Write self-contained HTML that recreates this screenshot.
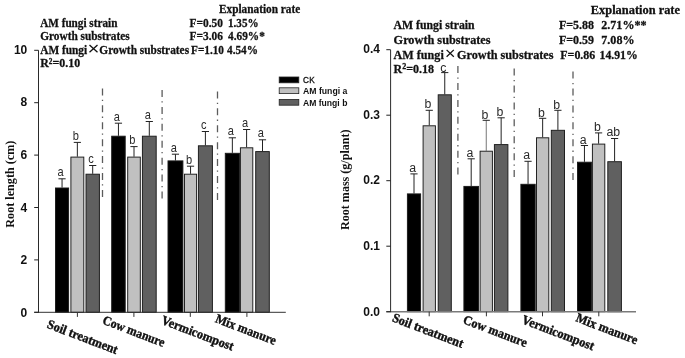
<!DOCTYPE html>
<html><head><meta charset="utf-8"><title>Root length and root mass</title>
<style>
html,body{margin:0;padding:0;background:#fff;}
svg{display:block;will-change:transform;filter:blur(0.3px);}
text{font-family:"Liberation Serif",serif;fill:#111;}
.st{font-weight:bold;font-size:12.4px;stroke:#111;stroke-width:0.28px;}
.st2{font-weight:bold;font-size:12.5px;stroke:#111;stroke-width:0.28px;}
.xl{font-weight:bold;font-size:13px;stroke:#111;stroke-width:0.4px;}
.yl{font-weight:bold;font-size:12.4px;}
.tk{font-family:"Liberation Sans",sans-serif;font-weight:bold;font-size:12px;}
.lt{font-family:"Liberation Sans",sans-serif;font-size:12.3px;fill:#2a2a2a;}
.lg{font-family:"Liberation Sans",sans-serif;font-weight:bold;font-size:8.5px;}
.lg0{font-family:"Liberation Sans",sans-serif;font-size:8.2px;stroke:#111;stroke-width:0.3px;}
</style></head><body>
<svg width="685" height="358" viewBox="0 0 685 358">
<rect width="685" height="358" fill="#fff"/>
<line x1="102.5" y1="88.4" x2="102.5" y2="196.9" stroke="#5c5c5c" stroke-width="1.3" stroke-dasharray="7 4.3 1.3 4.32"/>
<line x1="162.1" y1="90" x2="162.1" y2="198.5" stroke="#5c5c5c" stroke-width="1.3" stroke-dasharray="7 4.3 1.3 4.32"/>
<line x1="217.5" y1="91.4" x2="217.5" y2="199.9" stroke="#5c5c5c" stroke-width="1.3" stroke-dasharray="7 4.3 1.3 4.32"/>
<path d="M62.05 187.6V178.8" stroke="#222" stroke-width="1" fill="none"/>
<path d="M58.45 178.8H65.65" stroke="#222" stroke-width="1" fill="none"/>
<rect x="55.5" y="188" width="13.1" height="124.3" fill="#000000" stroke="#1a1a1a" stroke-width="0.95"/>
<text transform="translate(60.45 176.3) scale(0.9 1)" class="lt" text-anchor="middle">a</text>
<path d="M77.35 156.7V142.4" stroke="#222" stroke-width="1" fill="none"/>
<path d="M73.75 142.4H80.95" stroke="#222" stroke-width="1" fill="none"/>
<rect x="70.9" y="157.1" width="12.9" height="155.2" fill="#c0c0c0" stroke="#1a1a1a" stroke-width="0.95"/>
<text transform="translate(75.75 139.9) scale(0.9 1)" class="lt" text-anchor="middle">b</text>
<path d="M92.7 173.8V165.5" stroke="#222" stroke-width="1" fill="none"/>
<path d="M89.1 165.5H96.3" stroke="#222" stroke-width="1" fill="none"/>
<rect x="86" y="174.2" width="13.4" height="138.1" fill="#606060" stroke="#1a1a1a" stroke-width="0.95"/>
<text transform="translate(91.1 163) scale(0.9 1)" class="lt" text-anchor="middle">c</text>
<path d="M118.45 135.8V123.2" stroke="#222" stroke-width="1" fill="none"/>
<path d="M114.85 123.2H122.05" stroke="#222" stroke-width="1" fill="none"/>
<rect x="111.7" y="136.2" width="13.5" height="176.1" fill="#000000" stroke="#1a1a1a" stroke-width="0.95"/>
<text transform="translate(116.85 120.7) scale(0.9 1)" class="lt" text-anchor="middle">a</text>
<path d="M134 156.7V146.6" stroke="#222" stroke-width="1" fill="none"/>
<path d="M130.4 146.6H137.6" stroke="#222" stroke-width="1" fill="none"/>
<rect x="127.7" y="157.1" width="12.6" height="155.2" fill="#c0c0c0" stroke="#1a1a1a" stroke-width="0.95"/>
<text transform="translate(132.4 144.1) scale(0.9 1)" class="lt" text-anchor="middle">b</text>
<path d="M149.3 135.8V121.5" stroke="#222" stroke-width="1" fill="none"/>
<path d="M145.7 121.5H152.9" stroke="#222" stroke-width="1" fill="none"/>
<rect x="142.4" y="136.2" width="13.8" height="176.1" fill="#606060" stroke="#1a1a1a" stroke-width="0.95"/>
<text transform="translate(147.7 119) scale(0.9 1)" class="lt" text-anchor="middle">a</text>
<path d="M175.45 160.5V154.2" stroke="#222" stroke-width="1" fill="none"/>
<path d="M171.85 154.2H179.05" stroke="#222" stroke-width="1" fill="none"/>
<rect x="168" y="160.9" width="14.9" height="151.4" fill="#000000" stroke="#1a1a1a" stroke-width="0.95"/>
<text transform="translate(173.85 151.7) scale(0.9 1)" class="lt" text-anchor="middle">a</text>
<path d="M190.55 173.8V166.2" stroke="#222" stroke-width="1" fill="none"/>
<path d="M186.95 166.2H194.15" stroke="#222" stroke-width="1" fill="none"/>
<rect x="184.5" y="174.2" width="12.1" height="138.1" fill="#c0c0c0" stroke="#1a1a1a" stroke-width="0.95"/>
<text transform="translate(188.95 163.7) scale(0.9 1)" class="lt" text-anchor="middle">b</text>
<path d="M205.4 145.4V131.5" stroke="#222" stroke-width="1" fill="none"/>
<path d="M201.8 131.5H209" stroke="#222" stroke-width="1" fill="none"/>
<rect x="198.4" y="145.8" width="14" height="166.5" fill="#606060" stroke="#1a1a1a" stroke-width="0.95"/>
<text transform="translate(203.8 129) scale(0.9 1)" class="lt" text-anchor="middle">c</text>
<path d="M232.35 152.9V137.8" stroke="#222" stroke-width="1" fill="none"/>
<path d="M228.75 137.8H235.95" stroke="#222" stroke-width="1" fill="none"/>
<rect x="225.3" y="153.3" width="14.1" height="159" fill="#000000" stroke="#1a1a1a" stroke-width="0.95"/>
<text transform="translate(230.75 135.3) scale(0.9 1)" class="lt" text-anchor="middle">a</text>
<path d="M246.6 147.4V129.5" stroke="#222" stroke-width="1" fill="none"/>
<path d="M243 129.5H250.2" stroke="#222" stroke-width="1" fill="none"/>
<rect x="240.4" y="147.8" width="12.4" height="164.5" fill="#c0c0c0" stroke="#1a1a1a" stroke-width="0.95"/>
<text transform="translate(245 127) scale(0.9 1)" class="lt" text-anchor="middle">a</text>
<path d="M262.5 151.2V139.8" stroke="#222" stroke-width="1" fill="none"/>
<path d="M258.9 139.8H266.1" stroke="#222" stroke-width="1" fill="none"/>
<rect x="255.7" y="151.6" width="13.6" height="160.7" fill="#606060" stroke="#1a1a1a" stroke-width="0.95"/>
<text transform="translate(260.9 137.3) scale(0.9 1)" class="lt" text-anchor="middle">a</text>
<path d="M34.2 312.3H285.8" stroke="#333" stroke-width="1.0" fill="none"/>
<path d="M38.5 50.3V312.7" stroke="#2a2a2a" stroke-width="1" fill="none"/>
<line x1="34.2" y1="312.3" x2="38.5" y2="312.3" stroke="#222" stroke-width="1"/>
<text x="27.3" y="316.8" class="tk" text-anchor="end">0</text>
<line x1="34.2" y1="259.9" x2="38.5" y2="259.9" stroke="#222" stroke-width="1"/>
<text x="27.3" y="264.2" class="tk" text-anchor="end">2</text>
<line x1="34.2" y1="207.5" x2="38.5" y2="207.5" stroke="#222" stroke-width="1"/>
<text x="27.3" y="211.6" class="tk" text-anchor="end">4</text>
<line x1="34.2" y1="155.1" x2="38.5" y2="155.1" stroke="#222" stroke-width="1"/>
<text x="27.3" y="159" class="tk" text-anchor="end">6</text>
<line x1="34.2" y1="102.7" x2="38.5" y2="102.7" stroke="#222" stroke-width="1"/>
<text x="27.3" y="106.4" class="tk" text-anchor="end">8</text>
<line x1="34.2" y1="50.3" x2="38.5" y2="50.3" stroke="#222" stroke-width="1"/>
<text x="27.3" y="53.8" class="tk" text-anchor="end">10</text>
<line x1="77.4" y1="312.3" x2="77.4" y2="316.9" stroke="#333" stroke-width="1"/>
<line x1="133.9" y1="312.3" x2="133.9" y2="316.9" stroke="#333" stroke-width="1"/>
<line x1="190.3" y1="312.3" x2="190.3" y2="316.9" stroke="#333" stroke-width="1"/>
<line x1="246.9" y1="312.3" x2="246.9" y2="316.9" stroke="#333" stroke-width="1"/>
<text transform="translate(46.3 327.5) rotate(21)" class="xl" textLength="74.6" lengthAdjust="spacingAndGlyphs">Soil treatment</text>
<text transform="translate(101.7 323.5) rotate(21)" class="xl" textLength="65.6" lengthAdjust="spacingAndGlyphs">Cow manure</text>
<text transform="translate(160.6 323.5) rotate(21)" class="xl" textLength="76.2" lengthAdjust="spacingAndGlyphs">Vermicompost</text>
<text transform="translate(214.4 322) rotate(21)" class="xl" textLength="64.2" lengthAdjust="spacingAndGlyphs">Mix manure</text>
<text transform="translate(13.8 184.2) rotate(-90)" class="yl" text-anchor="middle" textLength="87" lengthAdjust="spacingAndGlyphs">Root length (cm)</text>
<line x1="457.9" y1="66.1" x2="457.9" y2="174.6" stroke="#5c5c5c" stroke-width="1.3" stroke-dasharray="7 4.3 1.3 4.32"/>
<line x1="514.2" y1="68.6" x2="514.2" y2="177.1" stroke="#5c5c5c" stroke-width="1.3" stroke-dasharray="7 4.3 1.3 4.32"/>
<line x1="573" y1="71.6" x2="573" y2="180.1" stroke="#5c5c5c" stroke-width="1.3" stroke-dasharray="7 4.3 1.3 4.32"/>
<path d="M414 193.5V173.9" stroke="#222" stroke-width="1" fill="none"/>
<path d="M410.4 173.9H417.6" stroke="#222" stroke-width="1" fill="none"/>
<rect x="407.4" y="193.9" width="13.2" height="117.8" fill="#000000" stroke="#1a1a1a" stroke-width="0.95"/>
<text transform="translate(412.7 171.9) scale(1 1)" class="lt" text-anchor="middle">a</text>
<path d="M429.25 125.4V110.3" stroke="#222" stroke-width="1" fill="none"/>
<path d="M425.65 110.3H432.85" stroke="#222" stroke-width="1" fill="none"/>
<rect x="423.1" y="125.8" width="12.3" height="185.9" fill="#c0c0c0" stroke="#1a1a1a" stroke-width="0.95"/>
<text transform="translate(427.95 108.4) scale(1 1)" class="lt" text-anchor="middle">b</text>
<path d="M444.75 94.4V72.6" stroke="#222" stroke-width="1" fill="none"/>
<path d="M441.15 72.6H448.35" stroke="#222" stroke-width="1" fill="none"/>
<rect x="438.2" y="94.8" width="13.1" height="216.9" fill="#606060" stroke="#1a1a1a" stroke-width="0.95"/>
<text transform="translate(443.45 72.1) scale(1 1)" class="lt" text-anchor="middle">c</text>
<path d="M471.2 186V158.8" stroke="#222" stroke-width="1" fill="none"/>
<path d="M467.6 158.8H474.8" stroke="#222" stroke-width="1" fill="none"/>
<rect x="463.9" y="186.4" width="14.6" height="125.3" fill="#000000" stroke="#1a1a1a" stroke-width="0.95"/>
<text transform="translate(469.9 156.9) scale(1 1)" class="lt" text-anchor="middle">a</text>
<path d="M486.25 150.8V120.3" stroke="#777" stroke-width="1" fill="none"/>
<path d="M482.65 120.3H489.85" stroke="#222" stroke-width="1" fill="none"/>
<rect x="480.1" y="151.2" width="12.3" height="160.5" fill="#c0c0c0" stroke="#1a1a1a" stroke-width="0.95"/>
<text transform="translate(484.95 118.5) scale(1 1)" class="lt" text-anchor="middle">b</text>
<path d="M501.15 144.2V117.8" stroke="#222" stroke-width="1" fill="none"/>
<path d="M497.55 117.8H504.75" stroke="#222" stroke-width="1" fill="none"/>
<rect x="494.4" y="144.6" width="13.5" height="167.1" fill="#606060" stroke="#1a1a1a" stroke-width="0.95"/>
<text transform="translate(499.85 116) scale(1 1)" class="lt" text-anchor="middle">b</text>
<path d="M528.05 183.9V161.3" stroke="#222" stroke-width="1" fill="none"/>
<path d="M524.45 161.3H531.65" stroke="#222" stroke-width="1" fill="none"/>
<rect x="520.9" y="184.3" width="14.3" height="127.4" fill="#000000" stroke="#1a1a1a" stroke-width="0.95"/>
<text transform="translate(526.75 159.3) scale(1 1)" class="lt" text-anchor="middle">a</text>
<path d="M542.65 137.4V118.3" stroke="#222" stroke-width="1" fill="none"/>
<path d="M539.05 118.3H546.25" stroke="#222" stroke-width="1" fill="none"/>
<rect x="536.5" y="137.8" width="12.3" height="173.9" fill="#c0c0c0" stroke="#1a1a1a" stroke-width="0.95"/>
<text transform="translate(541.35 116.5) scale(1 1)" class="lt" text-anchor="middle">b</text>
<path d="M557.9 129.9V110.3" stroke="#222" stroke-width="1" fill="none"/>
<path d="M554.3 110.3H561.5" stroke="#222" stroke-width="1" fill="none"/>
<rect x="551.3" y="130.3" width="13.2" height="181.4" fill="#606060" stroke="#1a1a1a" stroke-width="0.95"/>
<text transform="translate(556.6 108.9) scale(1 1)" class="lt" text-anchor="middle">b</text>
<path d="M584.45 161.8V145.5" stroke="#222" stroke-width="1" fill="none"/>
<path d="M580.85 145.5H588.05" stroke="#222" stroke-width="1" fill="none"/>
<rect x="577.5" y="162.2" width="13.9" height="149.5" fill="#000000" stroke="#1a1a1a" stroke-width="0.95"/>
<text transform="translate(583.15 143.5) scale(1 1)" class="lt" text-anchor="middle">a</text>
<path d="M598.6 143.7V132.9" stroke="#222" stroke-width="1" fill="none"/>
<path d="M595 132.9H602.2" stroke="#222" stroke-width="1" fill="none"/>
<rect x="592.4" y="144.1" width="12.4" height="167.6" fill="#c0c0c0" stroke="#1a1a1a" stroke-width="0.95"/>
<text transform="translate(597.3 131.1) scale(1 1)" class="lt" text-anchor="middle">b</text>
<path d="M614.6 161.3V138.5" stroke="#222" stroke-width="1" fill="none"/>
<path d="M611 138.5H618.2" stroke="#222" stroke-width="1" fill="none"/>
<rect x="607.8" y="161.7" width="13.6" height="150" fill="#606060" stroke="#1a1a1a" stroke-width="0.95"/>
<text transform="translate(613.3 136) scale(1 1)" class="lt" text-anchor="middle">ab</text>
<path d="M386.3 311.7H636" stroke="#7a7a7a" stroke-width="1.6" fill="none"/>
<path d="M390.6 49.8V312.1" stroke="#2a2a2a" stroke-width="1" fill="none"/>
<line x1="386.3" y1="311.7" x2="390.6" y2="311.7" stroke="#222" stroke-width="1"/>
<text x="380" y="315.7" class="tk" text-anchor="end">0.0</text>
<line x1="386.3" y1="246.2" x2="390.6" y2="246.2" stroke="#222" stroke-width="1"/>
<text x="380" y="250.05" class="tk" text-anchor="end">0.1</text>
<line x1="386.3" y1="180.7" x2="390.6" y2="180.7" stroke="#222" stroke-width="1"/>
<text x="380" y="184.4" class="tk" text-anchor="end">0.2</text>
<line x1="386.3" y1="115.2" x2="390.6" y2="115.2" stroke="#222" stroke-width="1"/>
<text x="380" y="118.75" class="tk" text-anchor="end">0.3</text>
<line x1="386.3" y1="49.7" x2="390.6" y2="49.7" stroke="#222" stroke-width="1"/>
<text x="380" y="53.1" class="tk" text-anchor="end">0.4</text>
<line x1="429.2" y1="311.7" x2="429.2" y2="316.3" stroke="#333" stroke-width="1"/>
<line x1="486.4" y1="311.7" x2="486.4" y2="316.3" stroke="#333" stroke-width="1"/>
<line x1="542.5" y1="311.7" x2="542.5" y2="316.3" stroke="#333" stroke-width="1"/>
<line x1="598.8" y1="311.7" x2="598.8" y2="316.3" stroke="#333" stroke-width="1"/>
<text transform="translate(391.4 321) rotate(21)" class="xl" textLength="75.1" lengthAdjust="spacingAndGlyphs">Soil treatment</text>
<text transform="translate(462.3 323) rotate(21)" class="xl" textLength="67.5" lengthAdjust="spacingAndGlyphs">Cow manure</text>
<text transform="translate(521 323) rotate(21)" class="xl" textLength="76.5" lengthAdjust="spacingAndGlyphs">Vermicompost</text>
<text transform="translate(575 321) rotate(21)" class="xl" textLength="65.2" lengthAdjust="spacingAndGlyphs">Mix manure</text>
<text transform="translate(349.4 179.7) rotate(-90)" class="yl" text-anchor="middle" textLength="100.5" lengthAdjust="spacingAndGlyphs">Root mass (g/plant)</text>
<rect x="279.2" y="77" width="19.6" height="5.8" fill="#000000" stroke="#222" stroke-width="0.8"/>
<text x="303" y="82.7" class="lg0" textLength="11.8" lengthAdjust="spacing">CK</text>
<rect x="279.2" y="87.8" width="19.6" height="5.8" fill="#c0c0c0" stroke="#222" stroke-width="0.8"/>
<text x="303" y="93.9" class="lg" textLength="44.4" lengthAdjust="spacingAndGlyphs">AM fungi a</text>
<rect x="279.2" y="99.4" width="19.6" height="5.8" fill="#606060" stroke="#222" stroke-width="0.8"/>
<text x="303" y="105.6" class="lg" textLength="44.4" lengthAdjust="spacingAndGlyphs">AM fungi b</text>
<text x="219" y="12.9" class="st" textLength="81.2" lengthAdjust="spacingAndGlyphs">Explanation rate</text>
<text x="40.2" y="26.8" class="st" textLength="77.2" lengthAdjust="spacingAndGlyphs">AM fungi strain</text>
<text x="40.2" y="39.6" class="st" textLength="89.5" lengthAdjust="spacingAndGlyphs">Growth substrates</text>
<text x="40.2" y="53.5" class="st" textLength="47" lengthAdjust="spacingAndGlyphs">AM fungi</text>
<path d="M89.5 44.9L97.5 52.3M97.5 44.9L89.5 52.3" stroke="#111" stroke-width="1.3" fill="none"/>
<text x="99.3" y="53.5" class="st" textLength="89.8" lengthAdjust="spacingAndGlyphs">Growth substrates</text>
<text x="40.2" y="66.8" class="st" textLength="40" lengthAdjust="spacingAndGlyphs">R<tspan dy="-3" font-size="7.6">2</tspan><tspan dy="3">=0.10</tspan></text>
<text x="189.6" y="26.8" class="st" textLength="33.4" lengthAdjust="spacingAndGlyphs">F=0.50</text>
<text x="228" y="26.8" class="st" textLength="30.6" lengthAdjust="spacingAndGlyphs">1.35%</text>
<text x="189.6" y="39.6" class="st" textLength="33.4" lengthAdjust="spacingAndGlyphs">F=3.06</text>
<text x="228" y="39.6" class="st" textLength="36.8" lengthAdjust="spacingAndGlyphs">4.69%*</text>
<text x="191" y="53.5" class="st" textLength="33" lengthAdjust="spacingAndGlyphs">F=1.10</text>
<text x="227" y="53.5" class="st" textLength="31" lengthAdjust="spacingAndGlyphs">4.54%</text>
<text x="590.8" y="14.2" class="st2" textLength="89.2" lengthAdjust="spacingAndGlyphs">Explanation rate</text>
<text x="393.6" y="29.4" class="st2" textLength="81" lengthAdjust="spacingAndGlyphs">AM fungi strain</text>
<text x="393.6" y="44.2" class="st2" textLength="97" lengthAdjust="spacingAndGlyphs">Growth substrates</text>
<text x="393.6" y="58.6" class="st2" textLength="50.2" lengthAdjust="spacingAndGlyphs">AM fungi</text>
<path d="M446.6 49.9L453.8 56.8M453.8 49.9L446.6 56.8" stroke="#111" stroke-width="1.3" fill="none"/>
<text x="457" y="58.6" class="st2" textLength="96.5" lengthAdjust="spacingAndGlyphs">Growth substrates</text>
<text x="393.6" y="73.2" class="st2" textLength="40.5" lengthAdjust="spacingAndGlyphs">R<tspan dy="-4.4" font-size="8.4">2</tspan><tspan dy="4.4">=0.18</tspan></text>
<text x="559" y="29.4" class="st2" textLength="35" lengthAdjust="spacingAndGlyphs">F=5.88</text>
<text x="601.3" y="29.4" class="st2" textLength="45.2" lengthAdjust="spacingAndGlyphs">2.71%**</text>
<text x="559" y="44.2" class="st2" textLength="35" lengthAdjust="spacingAndGlyphs">F=0.59</text>
<text x="601.3" y="44.2" class="st2" textLength="33.2" lengthAdjust="spacingAndGlyphs">7.08%</text>
<text x="560.3" y="58.6" class="st2" textLength="35" lengthAdjust="spacingAndGlyphs">F=0.86</text>
<text x="599.5" y="58.6" class="st2" textLength="38.2" lengthAdjust="spacingAndGlyphs">14.91%</text>
</svg>
</body></html>
